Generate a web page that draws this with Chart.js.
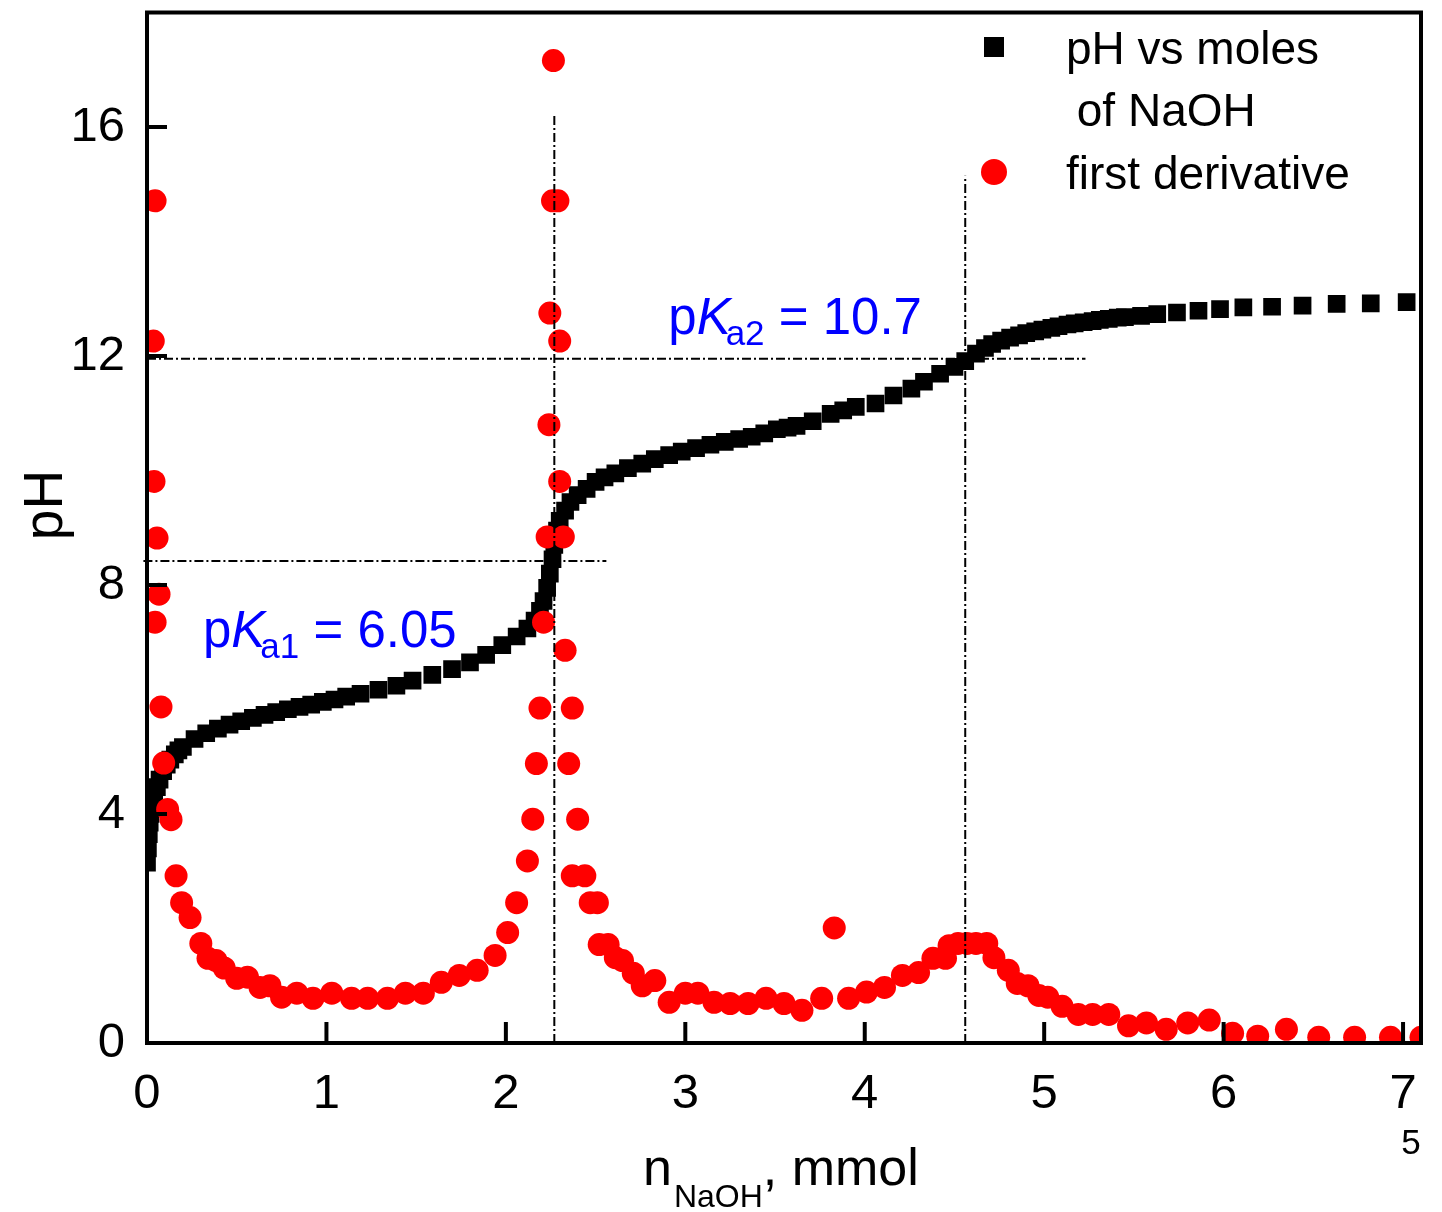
<!DOCTYPE html>
<html>
<head>
<meta charset="utf-8">
<script src="https://cdn.jsdelivr.net/npm/chart.js@4.4.1/dist/chart.umd.min.js"></script>
<style>
  html, body { margin: 0; padding: 0; background: #fff; }
  canvas { display: block; }
</style>
</head>
<body>
<canvas id="c" width="1442" height="1212"></canvas>
<script>
// ---------------- DATA ----------------
const xTicks = [0, 1, 2, 3, 4, 5, 6, 7];
const xTickLabels = ['0', '1', '2', '3', '4', '5', '6', '7'];
const yTicks = [0, 4, 8, 12, 16];
const yTickLabels = ['0', '4', '8', '12', '16'];

// pH vs moles of NaOH (mmol)
const phX = [0.00,0.005,0.01,0.015,0.02,0.03,0.04,0.055,0.07,0.09,0.11,0.13,0.155,0.175,
  0.20,0.265,0.33,0.395,0.46,0.525,0.59,0.655,0.72,0.785,0.85,0.915,0.98,1.045,1.11,
  1.19,1.29,1.39,1.48,1.59,1.70,1.80,1.89,1.98,2.06,2.12,2.16,2.19,2.21,2.23,2.245,
  2.26,2.27,2.285,2.30,2.33,2.36,2.40,2.45,2.50,2.55,2.61,2.68,2.76,2.83,2.91,2.98,
  3.06,3.14,3.22,3.30,3.37,3.44,3.51,3.57,3.62,3.71,3.81,3.88,3.95,4.06,4.16,4.26,
  4.33,4.42,4.50,4.56,4.62,4.67,4.71,4.76,4.81,4.86,4.90,4.95,4.99,5.04,5.08,5.13,
  5.17,5.22,5.27,5.31,5.36,5.41,5.45,5.54,5.63,5.74,5.86,5.98,6.11,6.27,6.44,6.63,
  6.82,7.02];
const phY = [3.15,3.40,3.65,3.85,4.00,4.18,4.32,4.47,4.60,4.75,4.86,4.95,5.04,5.11,
  5.17,5.31,5.41,5.49,5.56,5.62,5.68,5.73,5.78,5.83,5.87,5.91,5.96,6.00,6.05,
  6.10,6.17,6.24,6.33,6.43,6.53,6.65,6.78,6.95,7.10,7.24,7.38,7.55,7.72,7.95,8.20,
  8.45,8.70,8.95,9.12,9.30,9.45,9.57,9.68,9.80,9.88,9.95,10.04,10.12,10.20,10.27,10.33,
  10.39,10.45,10.50,10.55,10.59,10.65,10.72,10.75,10.78,10.86,10.99,11.05,11.11,11.17,11.31,11.43,
  11.55,11.69,11.81,11.91,12.04,12.14,12.21,12.27,12.32,12.36,12.40,12.43,12.46,12.49,12.52,12.55,
  12.57,12.59,12.61,12.63,12.65,12.67,12.68,12.70,12.73,12.76,12.79,12.82,12.85,12.86,12.88,12.91,
  12.92,12.94];

// first derivative
const derivX = [0.045,0.035,0.039,0.056,0.067,0.045,0.078,0.093,0.115,0.134,0.162,0.193,
  0.24,0.30,0.34,0.385,0.43,0.50,0.56,0.63,0.685,0.75,0.835,0.925,1.03,1.14,1.23,1.34,
  1.44,1.54,1.64,1.74,1.84,1.94,2.01,2.06,2.12,2.15,2.17,2.19,2.21,2.23,2.24,2.245,
  2.26,2.265,2.29,2.30,2.30,2.32,2.33,2.37,2.35,2.40,2.37,2.44,2.47,2.51,2.52,2.57,
  2.61,2.65,2.71,2.76,2.83,2.91,3.00,3.07,3.16,3.25,3.35,3.45,3.55,3.65,3.76,3.83,
  3.91,4.01,4.11,4.21,4.30,4.38,4.45,4.47,4.52,4.57,4.62,4.68,4.72,4.80,4.85,4.91,
  4.97,5.02,5.10,5.19,5.27,5.36,5.47,5.57,5.68,5.80,5.92,6.05,6.19,6.35,6.53,6.73,
  6.93,7.10];
const derivY = [14.71,12.26,9.81,8.82,7.84,7.35,5.87,4.89,4.08,3.90,2.92,2.45,
  2.19,1.74,1.48,1.44,1.31,1.13,1.15,0.97,1.00,0.80,0.87,0.78,0.87,0.78,0.78,0.78,
  0.87,0.87,1.06,1.18,1.27,1.53,1.93,2.45,3.18,3.91,4.88,5.85,7.35,8.84,10.80,12.75,
  14.71,17.16,14.71,12.26,9.81,8.84,6.86,5.85,4.88,3.91,2.92,2.92,2.45,2.45,1.72,1.72,
  1.49,1.44,1.22,1.00,1.09,0.71,0.87,0.87,0.71,0.69,0.69,0.78,0.69,0.57,0.78,2.01,
  0.78,0.89,0.97,1.18,1.23,1.48,1.48,1.70,1.74,1.74,1.74,1.74,1.49,1.27,1.04,1.00,
  0.83,0.80,0.64,0.50,0.50,0.50,0.30,0.35,0.24,0.35,0.40,0.17,0.12,0.24,0.10,0.10,
  0.10,0.10];

// reference (dash-dot) lines
const pKa2LineX = [0, 5.23];  const pKa2LineY = [11.95, 11.95];
const pKa1LineX = [-0.02, 2.56]; const pKa1LineY = [8.42, 8.42];
const eq1LineX = [2.27, 2.27]; const eq1LineY = [0, 16.2];
const eq2LineX = [4.56, 4.56]; const eq2LineY = [0, 15.15];

const legendLabels = ['pH vs moles', ' of NaOH', 'first derivative'];
const pKa1Label = { pre: 'p', k: 'K', sub: 'a1', post: ' = 6.05', x: 0.312, y: 6.91 };
const pKa2Label = { pre: 'p', k: 'K', sub: 'a2', post: ' = 10.7', x: 2.905, y: 12.38 };

// ---------------- BUILD ----------------
const zip = (xs, ys) => xs.map((v, i) => ({ x: v, y: ys[i] }));
const FONT = "'Liberation Sans', Arial, Helvetica, sans-serif";
const DASH = [9, 3, 2, 3];

function refLine(xs, ys) {
  return {
    type: 'line', data: zip(xs, ys), showLine: true, pointRadius: 0,
    borderColor: '#000', borderWidth: 2, borderDash: DASH, fill: false,
    clip: false, order: 0
  };
}

function richText(ctx, lbl, px, py, color) {
  ctx.fillStyle = color;
  ctx.textBaseline = 'alphabetic';
  ctx.textAlign = 'left';
  let cx = px;
  ctx.font = '51px ' + FONT;
  ctx.fillText(lbl.pre, cx, py); cx += ctx.measureText(lbl.pre).width;
  ctx.font = 'italic 51px ' + FONT;
  ctx.fillText(lbl.k, cx, py); cx += ctx.measureText(lbl.k).width - 5;
  ctx.font = '35px ' + FONT;
  ctx.fillText(lbl.sub, cx, py + 11); cx += ctx.measureText(lbl.sub).width;
  ctx.font = '51px ' + FONT;
  ctx.fillText(lbl.post, cx, py);
}

const decor = {
  id: 'decor',
  afterDatasetsDraw(chart) {
    const { ctx, chartArea: a, scales: { x, y } } = chart;
    ctx.save();
    // frame
    ctx.strokeStyle = '#000';
    ctx.lineWidth = 4;
    ctx.setLineDash([]);
    ctx.strokeRect(a.left, a.top, a.right - a.left, a.bottom - a.top);
    // inward ticks
    x.ticks.forEach(t => {
      const px = x.getPixelForValue(t.value);
      ctx.beginPath(); ctx.moveTo(px, a.bottom); ctx.lineTo(px, a.bottom - 21); ctx.stroke();
    });
    y.ticks.forEach(t => {
      const py = y.getPixelForValue(t.value);
      ctx.beginPath(); ctx.moveTo(a.left, py); ctx.lineTo(a.left + 20, py); ctx.stroke();
    });

    // pKa annotations
    richText(ctx, pKa1Label, x.getPixelForValue(pKa1Label.x), y.getPixelForValue(pKa1Label.y), '#0000ff');
    richText(ctx, pKa2Label, x.getPixelForValue(pKa2Label.x), y.getPixelForValue(pKa2Label.y), '#0000ff');

    // legend
    ctx.fillStyle = '#000';
    ctx.fillRect(984, 37, 20, 20);
    ctx.fillStyle = '#ff0000';
    ctx.beginPath(); ctx.arc(994, 172, 13, 0, Math.PI * 2); ctx.fill();
    ctx.fillStyle = '#000';
    ctx.font = '46px ' + FONT;
    ctx.textAlign = 'left'; ctx.textBaseline = 'alphabetic';
    ctx.fillText(legendLabels[0], 1066, 64);
    ctx.fillText(legendLabels[1], 1064, 126);
    ctx.fillText(legendLabels[2], 1066, 189);

    // y title
    ctx.save();
    ctx.translate(62, 505);
    ctx.rotate(-Math.PI / 2);
    ctx.textAlign = 'center'; ctx.textBaseline = 'alphabetic';
    ctx.font = '55px ' + FONT;
    ctx.fillText('pH', 0, 0);
    ctx.restore();

    // x title: n_NaOH, mmol
    ctx.textAlign = 'left';
    let cx = 643;
    ctx.font = '52px ' + FONT;
    ctx.fillText('n', cx, 1185); cx += ctx.measureText('n').width + 2;
    ctx.font = '32px ' + FONT;
    ctx.fillText('NaOH', cx, 1207); cx += ctx.measureText('NaOH').width;
    ctx.font = '52px ' + FONT;
    ctx.fillText(', mmol', cx, 1185);

    // small "5"
    ctx.font = '35px ' + FONT;
    ctx.textAlign = 'center';
    ctx.fillText('5', 1411, 1154);
    ctx.restore();
  }
};

new Chart(document.getElementById('c'), {
  type: 'scatter',
  data: {
    datasets: [
      refLine(pKa2LineX, pKa2LineY),
      refLine(pKa1LineX, pKa1LineY),
      refLine(eq1LineX, eq1LineY),
      refLine(eq2LineX, eq2LineY),
      {
        label: 'first derivative', data: zip(derivX, derivY),
        pointStyle: 'circle', pointRadius: 11.5, pointHoverRadius: 11.5,
        backgroundColor: '#ff0000', borderColor: '#ff0000', borderWidth: 0,
        showLine: false, clip: 0, order: 1
      },
      {
        label: 'pH vs moles of NaOH', data: zip(phX, phY),
        pointStyle: 'rect', pointRadius: 12.5, pointHoverRadius: 12.5,
        backgroundColor: '#000', borderColor: '#000', borderWidth: 0,
        showLine: false, clip: 0, order: 2
      }
    ]
  },
  options: {
    responsive: false,
    animation: false,
    devicePixelRatio: 1,
    layout: { padding: { top: 7, right: 21, left: 0, bottom: 0 } },
    plugins: { legend: { display: false }, tooltip: { enabled: false } },
    scales: {
      x: {
        type: 'linear', min: 0, max: 7.1,
        grid: { display: false, drawTicks: false }, border: { display: false },
        afterBuildTicks: s => { s.ticks = xTicks.map(v => ({ value: v })); },
        afterFit: s => { s.height = 169; s.paddingLeft = 0; s.paddingRight = 0; },
        ticks: {
          autoSkip: false, maxRotation: 0, minRotation: 0, padding: 22,
          color: '#000', font: { family: FONT, size: 49 },
          callback: (v) => xTickLabels[xTicks.indexOf(v)]
        }
      },
      y: {
        type: 'linear', min: 0, max: 18,
        grid: { display: false, drawTicks: false }, border: { display: false },
        afterBuildTicks: s => { s.ticks = yTicks.map(v => ({ value: v })); },
        afterFit: s => { s.width = 147; s.paddingTop = 0; s.paddingBottom = 0; },
        ticks: {
          autoSkip: false, padding: 22,
          color: '#000', font: { family: FONT, size: 49 },
          callback: (v) => yTickLabels[yTicks.indexOf(v)]
        }
      }
    }
  },
  plugins: [decor]
});
</script>
</body>
</html>
